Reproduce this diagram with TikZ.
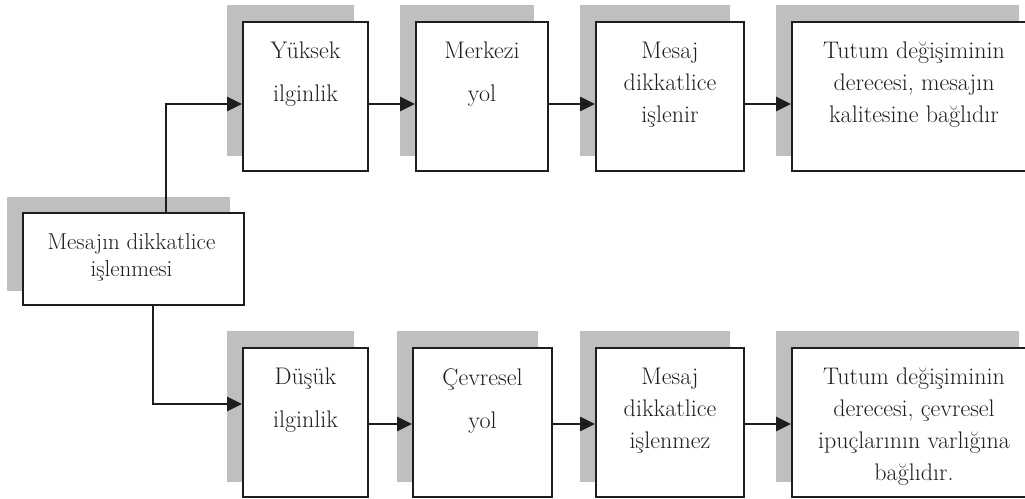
\documentclass[tikz,border=0pt]{standalone}
\usetikzlibrary{arrows.meta,backgrounds,calc}
\definecolor{shadowc}{RGB}{191,191,191}
\definecolor{inkc}{RGB}{30,30,30}
\tikzset{
  box/.style={draw=inkc, fill=white, line width=1.8pt, inner sep=0pt},
  conn/.style={draw=inkc, line width=2.4pt, -{Triangle[length=15pt,width=14pt]}},
  txt/.style={inner sep=0pt, align=center, anchor=north, text=inkc, font=\fontsize{24}{32}\selectfont},
  txtwide/.style={txt, font=\fontsize{24}{43}\selectfont},
  txtleft/.style={txt, font=\fontsize{23}{27}\selectfont},
  shad/.style={fill=shadowc}
}
\begin{document}
\begin{tikzpicture}[x=1pt,y=-1pt]
\useasboundingbox (0,0) rectangle (1025,498);
\clip (0,0) rectangle (1025,498);
% left box
\node[box, minimum width=221pt, minimum height=92pt] (L) at (133.5,259) {};
% top row
\node[box, minimum width=125pt, minimum height=149pt] (b1) at (305.5,96.5) {};
\node[box, minimum width=132pt, minimum height=149pt] (b2) at (482,96.5) {};
\node[box, minimum width=148pt, minimum height=149pt] (b3) at (670,96.5) {};
\node[box, minimum width=241pt, minimum height=149pt] (b4) at (912.5,96.5) {};
% bottom row
\node[box, minimum width=125pt, minimum height=149pt] (d1) at (305.5,422.5) {};
\node[box, minimum width=139pt, minimum height=149pt] (d2) at (482.5,422.5) {};
\node[box, minimum width=148pt, minimum height=149pt] (d3) at (670,422.5) {};
\node[box, minimum width=241pt, minimum height=149pt] (d4) at (912.5,422.5) {};
% shadows
\begin{scope}[on background layer]
  \fill[shad] ($(L.south west)+(-15,-15)$) rectangle ($(L.north east)+(-15,-15)$);
  \foreach \n in {b1,b2,b3,b4,d1,d2,d3,d4}{
    \fill[shad] ($(\n.south west)+(-15,-16)$) rectangle ($(\n.north east)+(-15,-16)$);
  }
\end{scope}
% texts
\node[txtleft] (tL) at ($(L.north)+(-2,21)$) {Mesajın dikkatlice\\işlenmesi};
\node[txtwide] (t1) at ($(b1.north)+(0,21)$) {Yüksek\\ilginlik};
\node[txtwide] (t2) at ($(b2.north)+(0,21)$) {Merkezi\\yol};
\node[txt] (t3) at ($(b3.north)+(0,21)$) {Mesaj\\dikkatlice\\işlenir};
\node[txt] (t4) at ($(b4.north)+(1.5,21)$) {Tutum değişiminin\\derecesi, mesajın\\kalitesine bağlıdır};
\node[txtwide] (u1) at ($(d1.north)+(0,21)$) {Düşük\\ilginlik};
\node[txtwide] (u2) at ($(d2.north)+(0,21)$) {Çevresel\\yol};
\node[txt] (u3) at ($(d3.north)+(0,21)$) {Mesaj\\dikkatlice\\işlenmez};
\node[txt] (u4) at ($(d4.north)+(1.5,21)$) {Tutum değişiminin\\derecesi, çevresel\\ipuçlarının varlığına\\bağlıdır.};
% connector helper coordinates
\coordinate (up) at (166,104);
\coordinate (dn) at (153,404);
\coordinate (rb) at (0,424);
% connectors
\draw[conn] (L.north -| up) |- (b1.west |- up);
\draw[conn] (L.south -| dn) |- (d1.west |- dn);
\draw[conn] (b1.east |- up) -- (b2.west |- up);
\draw[conn] (b2.east |- up) -- (b3.west |- up);
\draw[conn] (b3.east |- up) -- (b4.west |- up);
\draw[conn] (d1.east |- rb) -- (d2.west |- rb);
\draw[conn] (d2.east |- rb) -- (d3.west |- rb);
\draw[conn] (d3.east |- rb) -- (d4.west |- rb);
\end{tikzpicture}
\end{document}
